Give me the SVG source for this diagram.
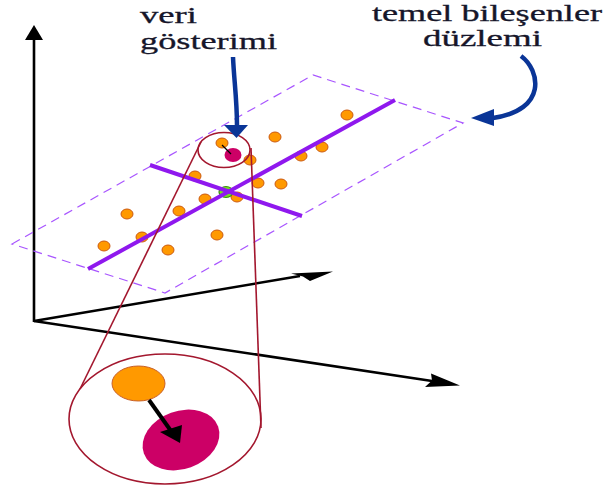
<svg xmlns="http://www.w3.org/2000/svg" width="604" height="493" viewBox="0 0 604 493">
<style>
.lbl{font-family:"Liberation Serif","Times New Roman",serif;font-size:24px;fill:#16162a;stroke:#16162a;stroke-width:0.3}
.axis{stroke:#000;stroke-width:2.6;fill:none}
.dot{fill:#ff9900;stroke:#cc5a10;stroke-width:1}
.pc{stroke:#8f18ee;stroke-width:4;fill:none;stroke-linecap:butt}
.plane{stroke:#a855ff;stroke-width:1.2;fill:none;stroke-dasharray:9,6}
.red{stroke:#a3172e;stroke-width:1.6;fill:none}
.blue{stroke:#0a3597;stroke-width:4.5;fill:none}
</style>
<rect width="604" height="493" fill="#fff"/>
<g id="axes">
<line class="axis" x1="34" y1="322" x2="34" y2="38"/>
<polygon points="34,25 25,40 43,40" fill="#000"/>
<line class="axis" x1="34" y1="321" x2="300" y2="276"/>
<polygon points="333,271.5 291,273.5 303,276.5 310,281" fill="#000"/>
<line class="axis" x1="34" y1="321" x2="432" y2="381"/>
<polygon points="460,385.5 425,387 432,380.5 431,373.5" fill="#000"/>
</g>
<g id="plane">
<polygon class="plane" points="12,244 313,75 463,123 165,293"/>
</g>
<g id="data-points">
<ellipse class="dot" cx="222" cy="143" rx="6" ry="5"/>
<ellipse class="dot" cx="275" cy="137" rx="6" ry="5"/>
<ellipse class="dot" cx="347" cy="115" rx="6" ry="5"/>
<ellipse class="dot" cx="322" cy="147" rx="6" ry="5"/>
<ellipse class="dot" cx="301" cy="156" rx="6" ry="5"/>
<ellipse class="dot" cx="250" cy="160" rx="6" ry="5"/>
<ellipse class="dot" cx="195" cy="176" rx="6" ry="5"/>
<ellipse class="dot" cx="258" cy="183" rx="6" ry="5"/>
<ellipse class="dot" cx="281" cy="184" rx="6" ry="5"/>
<ellipse class="dot" cx="205" cy="199" rx="6" ry="5"/>
<ellipse class="dot" cx="237" cy="197" rx="6" ry="5"/>
<ellipse class="dot" cx="179" cy="211" rx="6" ry="5"/>
<ellipse class="dot" cx="127" cy="214" rx="6" ry="5"/>
<ellipse class="dot" cx="142" cy="237" rx="6" ry="5"/>
<ellipse class="dot" cx="217" cy="235" rx="6" ry="5"/>
<ellipse class="dot" cx="104" cy="246" rx="6" ry="5"/>
<ellipse class="dot" cx="168" cy="250" rx="6" ry="5"/>
<ellipse cx="226" cy="192" rx="7" ry="5.5" fill="#77dd22" stroke="#3a8a10" stroke-width="1.2"/>
<ellipse cx="233" cy="155" rx="8.5" ry="7" fill="#cc0066"/>
<line x1="222" y1="145" x2="231" y2="154" stroke="#000" stroke-width="1.3"/>
</g>
<g id="principal-axes">
<line class="pc" x1="88" y1="269" x2="395" y2="100"/>
<line class="pc" x1="150" y1="165" x2="302" y2="216"/>
</g>
<g id="zoom">
<ellipse class="red" cx="224" cy="150" rx="26" ry="17.5"/>
<line class="red" x1="201" y1="142" x2="80" y2="389"/>
<line class="red" x1="251" y1="148" x2="261" y2="428"/>
<ellipse class="red" cx="165" cy="419" rx="96" ry="65"/>
<ellipse cx="138.5" cy="383.5" rx="26.5" ry="17.5" fill="#ff9900" stroke="#c8602a" stroke-width="1"/>
<ellipse cx="181" cy="440" rx="39.5" ry="29" fill="#cc0066" transform="rotate(-20 181 440)"/>
<line x1="149" y1="400" x2="171" y2="431" stroke="#000" stroke-width="4"/>
<polygon points="180,443 160,432 182,425" fill="#000"/>
</g>
<g id="label-veri">
<text class="lbl" x="140" y="23" textLength="57" lengthAdjust="spacingAndGlyphs">veri</text>
<text class="lbl" x="140" y="49" textLength="137" lengthAdjust="spacingAndGlyphs">gösterimi</text>
<path class="blue" d="M233,57 C234,80 237,100 237,126"/>
<polygon points="236.5,138 224,125 248,125" fill="#0a3597"/>
</g>
<g id="label-plane">
<text class="lbl" x="372" y="21" textLength="230" lengthAdjust="spacingAndGlyphs">temel bileşenler</text>
<text class="lbl" x="423" y="46" textLength="119" lengthAdjust="spacingAndGlyphs">düzlemi</text>
<path class="blue" d="M521,56 C540,70 548,110 493,118"/>
<polygon points="471,118 494,109 494,126" fill="#0a3597"/>
</g>
</svg>
